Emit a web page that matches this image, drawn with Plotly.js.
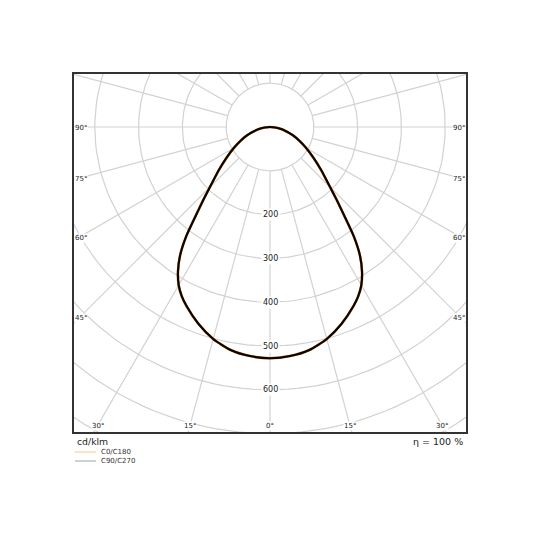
<!DOCTYPE html>
<html>
<head>
<meta charset="utf-8">
<script src="https://cdn.plot.ly/plotly-3.0.1.min.js"></script>
<style>html,body{margin:0;padding:0;background:#fff;}#chart{width:540px;height:540px;}</style>
</head>
<body>
<div id="chart"></div>
<script>
// Gamma angles (deg) and luminous intensity (cd/klm)
const gammaAngles = [0, 5, 10, 15, 20, 25, 27.5, 30, 32.5, 35, 37.5, 40, 42.5, 45, 50, 55, 60, 65, 70, 75, 80, 85, 90];
const intensityC0C180 = [528, 525, 517, 501, 478, 451, 436, 417, 391, 358, 314, 263, 225, 194, 152, 120, 95, 74, 56, 38, 24, 12, 0];
const intensityC90C270 = [528, 525, 517, 501, 478, 451, 436, 417, 391, 358, 314, 263, 225, 194, 152, 120, 95, 74, 56, 38, 24, 12, 0];
const ringValues = [100, 200, 300, 400, 500, 600, 700, 800, 900];
const ringLabels = [200, 300, 400, 500, 600];
const spokeAngles = [0,15,30,45,60,75,90,105,120,135,150,165,180,195,210,225,240,255,270,285,300,315,330,345];
const sideAngleLabels = ['90°', '75°', '60°', '45°'];
const bottomAngleLabels = ['30°', '15°', '0°', '15°', '30°'];
const unitLabel = 'cd/klm';
const efficiencyLabel = 'η = 100 %';
const legendNames = ['C0/C180', 'C90/C270'];

(function () {
const S = 0.438;            // px per cd
const cxPx = 270, cyPx = 127;
const boxL = 73, boxR = 467, boxT = 73, boxB = 433;
const xr = [-(cxPx - boxL) / S, (boxR - cxPx) / S];
const yr = [-(boxB - cyPx) / S, (cyPx - boxT) / S];
const toRad = d => d * Math.PI / 180;
const pyData = px => -(px - cyPx) / S;
const pxData = px => (px - cxPx) / S;

function curve(angles, vals) {
  const x = [], y = [];
  for (let i = angles.length - 1; i >= 0; i--) {
    const t = toRad(-angles[i]);
    x.push(vals[i] * Math.sin(t)); y.push(-vals[i] * Math.cos(t));
  }
  for (let i = 1; i < angles.length; i++) {
    const t = toRad(angles[i]);
    x.push(vals[i] * Math.sin(t)); y.push(-vals[i] * Math.cos(t));
  }
  return {x, y};
}

const gridColor = '#d2d2d2';
const traces = [];
const rx = [], ry = [];
ringValues.forEach(r => {
  for (let a = 0; a <= 360; a += 2) {
    rx.push(r * Math.sin(toRad(a))); ry.push(-r * Math.cos(toRad(a)));
  }
  rx.push(null); ry.push(null);
});
traces.push({x: rx, y: ry, mode: 'lines', line: {color: gridColor, width: 1.2}, hoverinfo: 'skip', showlegend: false});
const sx = [], sy = [];
spokeAngles.forEach(a => {
  const t = toRad(a);
  sx.push(100 * Math.sin(t), 1200 * Math.sin(t), null);
  sy.push(-100 * Math.cos(t), -1200 * Math.cos(t), null);
});
traces.push({x: sx, y: sy, mode: 'lines', line: {color: gridColor, width: 1.2}, hoverinfo: 'skip', showlegend: false});

const c1 = curve(gammaAngles, intensityC0C180);
const c2 = curve(gammaAngles, intensityC90C270);
traces.push({x: c1.x, y: c1.y, mode: 'lines', name: legendNames[0], line: {color: '#c07020', width: 2.6, shape: 'spline', smoothing: 0.6}, showlegend: false});
traces.push({x: c2.x, y: c2.y, mode: 'lines', name: legendNames[1], line: {color: '#0a0400', width: 2.1, shape: 'spline', smoothing: 0.6}, showlegend: false});

const annotations = [];
ringLabels.forEach(r => {
  annotations.push({x: 0, y: -r, xref: 'x', yref: 'y', text: String(r), showarrow: false,
    font: {family: 'DejaVu Sans', size: 8, color: '#222'}, bgcolor: '#fff', borderpad: 1});
});
const sideY = [128, 179, 238, 318];
sideAngleLabels.forEach((t, i) => {
  annotations.push({x: 0, xref: 'paper', xanchor: 'left', xshift: 1, y: pyData(sideY[i]), yref: 'y', text: t, showarrow: false,
    font: {family: 'DejaVu Sans', size: 7, color: '#222'}, bgcolor: '#fff', borderpad: 0});
  annotations.push({x: 1, xref: 'paper', xanchor: 'right', xshift: -1, y: pyData(sideY[i]), yref: 'y', text: t, showarrow: false,
    font: {family: 'DejaVu Sans', size: 7, color: '#222'}, bgcolor: '#fff', borderpad: 0});
});
const bottomX = [98, 190, 270, 350, 442];
bottomAngleLabels.forEach((t, i) => {
  annotations.push({x: pxData(bottomX[i]), xref: 'x', y: pyData(426), yref: 'y', text: t, showarrow: false,
    font: {family: 'DejaVu Sans', size: 7, color: '#222'}, bgcolor: '#fff', borderpad: 0});
});
annotations.push({x: 0, xref: 'paper', xanchor: 'left', xshift: 2, y: 0, yref: 'paper', yanchor: 'top', yshift: -1,
  text: unitLabel, showarrow: false, font: {family: 'DejaVu Sans', size: 9.3, color: '#222'}});
annotations.push({x: 1, xref: 'paper', xanchor: 'right', xshift: -2, y: 0, yref: 'paper', yanchor: 'top', yshift: -1,
  text: efficiencyLabel, showarrow: false, font: {family: 'DejaVu Sans', size: 9.5, color: '#222'}});
const legY = [452, 461];
const legColors = ['#f5c98a', '#9aa4aa'];
const shapes = [{type: 'rect', xref: 'paper', yref: 'paper', x0: 0, x1: 1, y0: 0, y1: 1, line: {color: '#333', width: 2}}];
legendNames.forEach((n, i) => {
  const py = (boxB - legY[i]) / (boxB - boxT);
  shapes.push({type: 'line', xref: 'paper', yref: 'paper', x0: (75 - boxL) / (boxR - boxL), x1: (96 - boxL) / (boxR - boxL), y0: py, y1: py,
    line: {color: legColors[i], width: 1}});
  annotations.push({x: (100 - boxL) / (boxR - boxL), xref: 'paper', xanchor: 'left', y: py, yref: 'paper', yanchor: 'middle',
    text: n, showarrow: false, font: {family: 'DejaVu Sans', size: 7, color: '#333'}, borderpad: 0});
});

const layout = {
  width: 540, height: 540,
  margin: {l: boxL, r: 540 - boxR, t: boxT, b: 540 - boxB, pad: 0},
  paper_bgcolor: '#fff', plot_bgcolor: '#fff',
  xaxis: {range: xr, visible: false, fixedrange: true},
  yaxis: {range: yr, visible: false, fixedrange: true},
  showlegend: false,
  annotations: annotations,
  shapes: shapes
};
Plotly.newPlot('chart', traces, layout, {displayModeBar: false, staticPlot: true});
})();
</script>
</body>
</html>
